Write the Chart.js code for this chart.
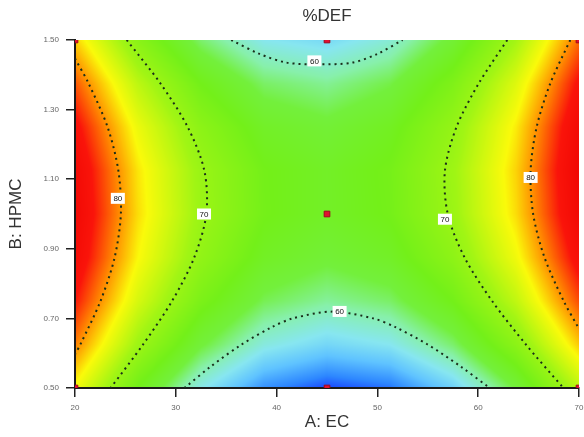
<!DOCTYPE html>
<html>
<head>
<meta charset="utf-8">
<script src="https://cdn.jsdelivr.net/npm/chart.js@4/dist/chart.umd.min.js"></script>
<style>
  html, body { margin: 0; padding: 0; background: #fff; }
  canvas { display: block; }
</style>
</head>
<body>
<canvas id="contour" width="584" height="437"></canvas>
<script>
// axis ticks
var xTicks = [20, 30, 40, 50, 60, 70];
var yTicks = [0.5, 0.7, 0.9, 1.1, 1.3, 1.5];

var xGrid = [20, 26.25, 32.5, 38.75, 45, 51.25, 57.5, 63.75, 70];
var yGrid = [0.5, 0.625, 0.75, 0.875, 1.0, 1.125, 1.25, 1.375, 1.5];
var zGrid = [
  [76.2, 65.82, 58.28, 53.57, 51.7, 52.67, 56.48, 63.12, 72.6],
  [80.98, 70.71, 63.28, 58.68, 56.93, 58.01, 61.93, 68.68, 78.28],
  [84.45, 74.3, 66.98, 62.49, 60.85, 62.04, 66.08, 72.95, 82.65],
  [86.63, 76.58, 69.38, 65.01, 63.48, 64.78, 68.93, 75.91, 85.73],
  [87.5, 77.57, 70.48, 66.22, 64.8, 66.22, 70.48, 77.57, 87.5],
  [87.08, 77.26, 70.28, 66.13, 64.83, 66.36, 70.73, 77.93, 87.98],
  [85.35, 75.65, 68.78, 64.74, 63.55, 65.19, 69.68, 77.0, 87.15],
  [82.33, 72.73, 65.98, 62.06, 60.98, 62.73, 67.33, 74.76, 85.03],
  [78.0, 68.52, 61.88, 58.07, 57.1, 58.97, 63.68, 71.22, 81.6]
];

// contour lines
var c80Left = [{x:20,y:1.447},{x:21.35,y:1.375},{x:23.23,y:1.25},{x:24.3,y:1.125},{x:24.55,y:1.0},{x:23.93,y:0.875},{x:22.53,y:0.75},{x:20.53,y:0.625},{x:20,y:0.597}];
var c70Left = [{x:25.13,y:1.5},{x:28.48,y:1.375},{x:31.18,y:1.25},{x:32.83,y:1.125},{x:33.03,y:1.0},{x:31.83,y:0.875},{x:29.63,y:0.75},{x:26.75,y:0.625},{x:23.53,y:0.5}];
var c70Right = [{x:62.88,y:1.5},{x:60.05,y:1.375},{x:57.85,y:1.25},{x:56.7,y:1.125},{x:56.98,y:1.0},{x:58.65,y:0.875},{x:61.38,y:0.75},{x:64.73,y:0.625},{x:68.45,y:0.5}];
var c80Right = [{x:69.13,y:1.5},{x:67.15,y:1.375},{x:65.8,y:1.25},{x:65.2,y:1.125},{x:65.45,y:1.0},{x:66.58,y:0.875},{x:68.48,y:0.75},{x:70,y:0.67}];
var c60Top = [{x:35.5,y:1.5},{x:38.3,y:1.46},{x:41,y:1.435},{x:44.2,y:1.43},{x:47.5,y:1.435},{x:50,y:1.46},{x:52.5,y:1.5}];
var c60Bottom = [{x:30.85,y:0.5},{x:33.5,y:0.5625},{x:36.53,y:0.625},{x:39.53,y:0.675},{x:41.6,y:0.7},{x:45.55,y:0.7195},{x:49.58,y:0.7},{x:51.78,y:0.675},{x:54.98,y:0.625},{x:58.23,y:0.5625},{x:61.15,y:0.5}];

var contourLabels = [
  {x:24.25, y:1.045, text:'80'},
  {x:32.8, y:1.0, text:'70'},
  {x:56.7, y:0.985, text:'70'},
  {x:65.2, y:1.105, text:'80'},
  {x:43.75, y:1.44, text:'60'},
  {x:46.25, y:0.72, text:'60'}
];

// design points
var designPts = [{x:20,y:0.5},{x:45,y:0.5},{x:70,y:0.5},{x:20,y:1.5},{x:45,y:1.5},{x:70,y:1.5},{x:45,y:1.0}];

var colorStops = [
  [51.7, [25, 70, 255]],
  [53.2, [45, 135, 255]],
  [55.6, [95, 195, 255]],
  [58, [135, 230, 240]],
  [60.5, [135, 240, 170]],
  [63, [115, 240, 60]],
  [66, [115, 240, 25]],
  [71, [160, 245, 20]],
  [76.5, [250, 250, 10]],
  [80.5, [255, 140, 0]],
  [84.5, [250, 20, 10]],
  [90, [235, 0, 0]]
];

function surface(xv, yv) {
  var fx = (xv - xGrid[0]) / (xGrid[1] - xGrid[0]);
  var fy = (yv - yGrid[0]) / (yGrid[1] - yGrid[0]);
  var i = Math.max(0, Math.min(xGrid.length - 2, Math.floor(fx)));
  var j = Math.max(0, Math.min(yGrid.length - 2, Math.floor(fy)));
  var u = fx - i, v = fy - j;
  var z00 = zGrid[j][i], z10 = zGrid[j][i + 1], z01 = zGrid[j + 1][i], z11 = zGrid[j + 1][i + 1];
  return (z00 * (1 - u) + z10 * u) * (1 - v) + (z01 * (1 - u) + z11 * u) * v;
}

function colorAt(z) {
  if (z <= colorStops[0][0]) return colorStops[0][1];
  for (var k = 1; k < colorStops.length; k++) {
    if (z <= colorStops[k][0]) {
      var a = colorStops[k - 1], b = colorStops[k];
      var t = (z - a[0]) / (b[0] - a[0]);
      return [a[1][0] + (b[1][0] - a[1][0]) * t, a[1][1] + (b[1][1] - a[1][1]) * t, a[1][2] + (b[1][2] - a[1][2]) * t];
    }
  }
  return colorStops[colorStops.length - 1][1];
}

var heatmap = {
  id: 'heatmap',
  beforeDraw: function (chart) {
    var a = chart.chartArea, xs = chart.scales.x, ys = chart.scales.y;
    var l = Math.round(a.left), t = Math.round(a.top);
    var w = Math.round(a.right) - l, h = Math.round(a.bottom) - t;
    var off = document.createElement('canvas');
    off.width = w; off.height = h;
    var octx = off.getContext('2d');
    var img = octx.createImageData(w, h);
    for (var j = 0; j < h; j++) {
      var yv = ys.getValueForPixel(t + j + 0.5);
      for (var i = 0; i < w; i++) {
        var c = colorAt(surface(xs.getValueForPixel(l + i + 0.5), yv));
        var p = (j * w + i) * 4;
        img.data[p] = c[0]; img.data[p + 1] = c[1]; img.data[p + 2] = c[2]; img.data[p + 3] = 255;
      }
    }
    octx.putImageData(img, 0, 0);
    chart.ctx.drawImage(off, l, t);
  }
};

var labelsAndTitle = {
  id: 'labelsAndTitle',
  afterDatasetsDraw: function (chart) {
    var ctx = chart.ctx, xs = chart.scales.x, ys = chart.scales.y;
    ctx.save();
    ctx.font = '8px "Liberation Sans", Arial, sans-serif';
    ctx.textAlign = 'center';
    ctx.textBaseline = 'middle';
    contourLabels.forEach(function (lb) {
      var px = xs.getPixelForValue(lb.x), py = ys.getPixelForValue(lb.y);
      ctx.fillStyle = '#fff';
      ctx.fillRect(px - 7, py - 5.5, 14, 11);
      ctx.fillStyle = '#111';
      ctx.fillText(lb.text, px, py + 0.5);
    });
    ctx.restore();
  },
  afterDraw: function (chart) {
    var ctx = chart.ctx, a = chart.chartArea;
    ctx.save();
    ctx.font = '17px "Liberation Sans", Arial, sans-serif';
    ctx.fillStyle = '#333';
    ctx.textAlign = 'center';
    ctx.textBaseline = 'middle';
    ctx.fillText('%DEF', (a.left + a.right) / 2, 16);
    ctx.restore();
  }
};

function contourSet(pts) {
  return {
    type: 'line', data: pts, borderColor: '#1a2e1a', borderWidth: 2,
    borderDash: [2, 4], pointRadius: 0, fill: false, tension: 0.3
  };
}

var ctx = document.getElementById('contour');
var myChart = new Chart(ctx, {
  type: 'scatter',
  data: {
    datasets: [
      contourSet(c80Left), contourSet(c70Left), contourSet(c70Right),
      contourSet(c80Right), contourSet(c60Top), contourSet(c60Bottom),
      {
        type: 'scatter', data: designPts, pointStyle: 'rect', pointRadius: 4,
        backgroundColor: '#e01030', borderColor: '#a00820', borderWidth: 1
      }
    ]
  },
  plugins: [heatmap, labelsAndTitle],
  options: {
    responsive: false,
    animation: false,
    layout: { padding: { top: 40, right: -3 } },
    plugins: { legend: { display: false }, tooltip: { enabled: false }, title: { display: false } },
    scales: {
      x: {
        type: 'linear', min: 20, max: 70,
        afterBuildTicks: function (s) { s.ticks = xTicks.map(function (v) { return { value: v }; }); },
        afterFit: function (s) { s.height = 49; s.paddingRight = 0; s.paddingLeft = 0; },
        ticks: { padding: 6, color: '#666', font: { size: 8, family: 'Liberation Sans' },
                 callback: function (v) { return v; } },
        grid: { drawOnChartArea: false, drawTicks: true, tickLength: 9, color: '#222', lineWidth: 1.5 },
        border: { display: true, color: '#1a1a1a', width: 2 },
        title: { display: true, text: 'A: EC', color: '#333', padding: { top: 2 },
                 font: { size: 17, family: 'Liberation Sans' } }
      },
      y: {
        type: 'linear', min: 0.5, max: 1.5,
        afterBuildTicks: function (s) { s.ticks = yTicks.map(function (v) { return { value: v }; }); },
        afterFit: function (s) { s.width = 75; },
        ticks: { padding: 7, color: '#666', font: { size: 8, family: 'Liberation Sans' },
                 callback: function (v) { return Number(v).toFixed(2); } },
        grid: { drawOnChartArea: false, drawTicks: true, tickLength: 9, color: '#222', lineWidth: 1.5 },
        border: { display: true, color: '#1a1a1a', width: 2 },
        title: { display: true, text: 'B: HPMC', color: '#333', padding: { top: 6 },
                 font: { size: 17, family: 'Liberation Sans' } }
      }
    }
  }
});
</script>
</body>
</html>
